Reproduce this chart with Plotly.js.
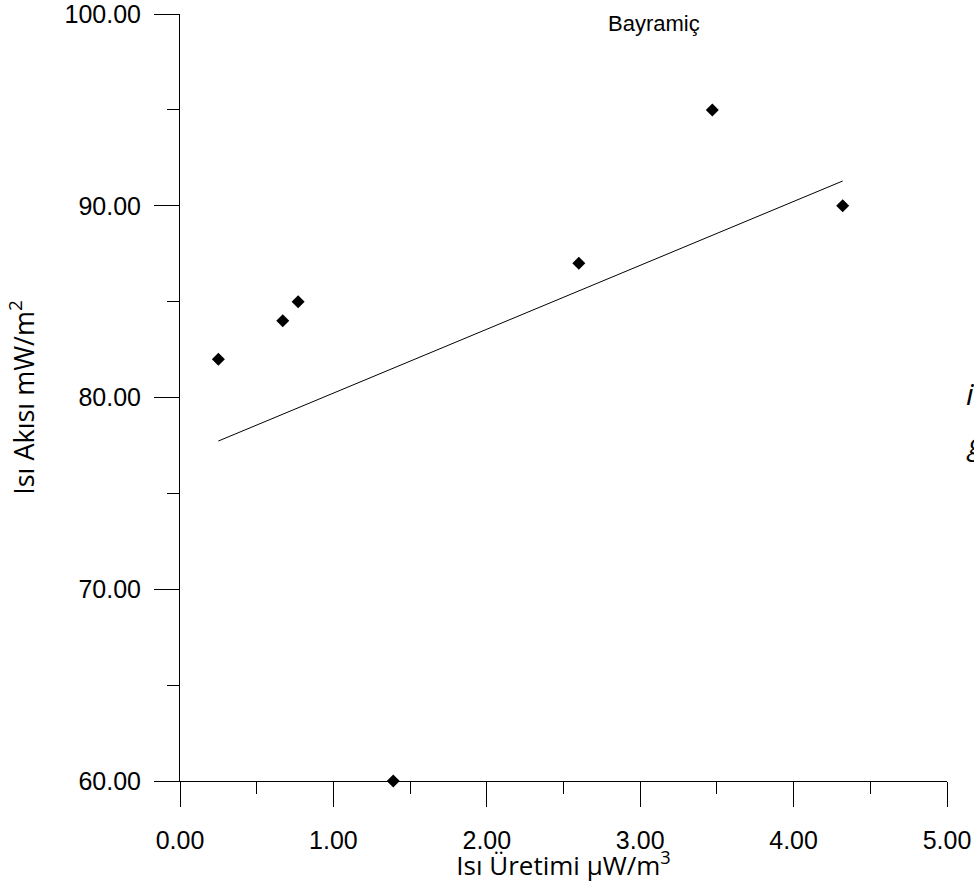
<!DOCTYPE html>
<html>
<head>
<meta charset="utf-8">
<script src="https://cdn.plot.ly/plotly-3.0.1.min.js"></script>
<style>html,body{margin:0;padding:0;background:#fff;}#chart{width:974px;height:883px;}</style>
</head>
<body>
<div id="chart"></div>
<script>
// Data
const heatProduction = [0.25, 0.67, 0.77, 1.39, 2.60, 3.47, 4.32];   // µW/m3
const heatFlow       = [82, 84, 85, 60, 87, 95, 90];                  // mW/m2
const fitX = [0.25, 4.32];
const fitY = [77.73, 91.29];
const xTickVals = [0, 1, 2, 3, 4, 5];
const xTickText = ["0.00", "1.00", "2.00", "3.00", "4.00", "5.00"];
const yTickVals = [60, 70, 80, 90, 100];
const yTickText = ["60.00", "70.00", "80.00", "90.00", "100.00"];

const tickFont = {family: '"Liberation Sans", Arial, sans-serif', size: 25, color: '#000'};
const titleFont = {family: '"Open Sans", "Noto Sans", sans-serif', size: 26, color: '#000'};

const traces = [
  {x: fitX, y: fitY, type: 'scatter', mode: 'lines', line: {color: '#000', width: 1}, hoverinfo: 'skip'},
  {x: heatProduction, y: heatFlow, type: 'scatter', mode: 'markers',
   marker: {symbol: 'diamond', size: 10, color: '#000', line: {width: 0}}, cliponaxis: false}
];

const layout = {
  width: 974, height: 883,
  margin: {l: 180, r: 27, t: 14, b: 102},
  paper_bgcolor: '#fff', plot_bgcolor: '#fff',
  showlegend: false,
  xaxis: {
    range: [0, 5], showgrid: false, zeroline: false,
    showline: true, linecolor: '#000', linewidth: 1,
    ticks: 'outside', ticklen: 25, tickwidth: 1, tickcolor: '#000',
    tickvals: xTickVals, ticktext: xTickText, tickfont: tickFont,
    ticklabelstandoff: 12, ticklabeloverflow: 'allow',
    minor: {tickvals: [0.5, 1.5, 2.5, 3.5, 4.5], ticks: 'outside', ticklen: 12, tickwidth: 1, tickcolor: '#000', showgrid: false},
    title: {text: 'Isı Üretimi µW/m<sup>3</sup>', font: titleFont, standoff: 5}
  },
  yaxis: {
    range: [60, 100], showgrid: false, zeroline: false,
    showline: true, linecolor: '#000', linewidth: 1,
    ticks: 'outside', ticklen: 25, tickwidth: 1, tickcolor: '#000',
    tickvals: yTickVals, ticktext: yTickText, tickfont: tickFont,
    ticklabelstandoff: 8, ticklabeloverflow: 'allow',
    minor: {tickvals: [65, 75, 85, 95], ticks: 'outside', ticklen: 12, tickwidth: 1, tickcolor: '#000', showgrid: false},
    title: {text: 'Isı Akısı mW/m<sup>2</sup>', font: {family: titleFont.family, size: 27, color: '#000'}, standoff: 22}
  },
  annotations: [
    {text: 'Bayramiç', xref: 'paper', yref: 'paper', x: 0.618, y: 0.988, xanchor: 'center', yanchor: 'middle',
     showarrow: false, font: {family: '"Liberation Sans", Arial, sans-serif', size: 22, color: '#000'}},
    {text: '<i>i</i>', xref: 'paper', yref: 'paper', x: 1.022, y: 0.505, xanchor: 'left', yanchor: 'middle',
     showarrow: false, font: {family: '"Open Sans", sans-serif', size: 30, color: '#000'}},
    {text: '<i>g</i>', xref: 'paper', yref: 'paper', x: 1.022, y: 0.44, xanchor: 'left', yanchor: 'middle',
     showarrow: false, font: {family: '"Open Sans", sans-serif', size: 30, color: '#000'}}
  ]
};

Plotly.newPlot('chart', traces, layout, {displayModeBar: false, staticPlot: true});
</script>
</body>
</html>
